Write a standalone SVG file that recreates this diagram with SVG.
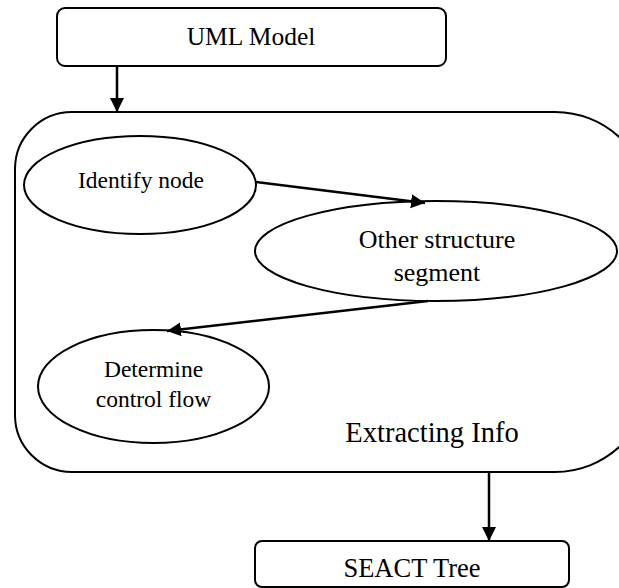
<svg xmlns="http://www.w3.org/2000/svg" width="619" height="588" viewBox="0 0 619 588">
<style>
.box{fill:#fff;stroke:#000;stroke-width:2}
.ell{fill:#fff;stroke:#000;stroke-width:2}
text{font-family:'Liberation Serif','Times New Roman',Tinos,'DejaVu Serif',serif;fill:#000;text-anchor:middle}
.edge{stroke:#000;stroke-width:2.5;fill:none;marker-end:url(#ah)}
</style>
<defs>
<marker id="ah" markerUnits="userSpaceOnUse" markerWidth="16" markerHeight="16" refX="14" refY="7" orient="auto">
<path d="M0,0 L14,7 L0,14 Z" fill="#000"/>
</marker>
</defs>
<rect x="0" y="0" width="619" height="588" fill="#fff"/>
<g id="extracting-info">
<path class="box" d="M72,112 H555 A95,95 0 0 1 650,207 V377 A95,95 0 0 1 555,472 H72 A57,57 0 0 1 15,415 V169 A57,57 0 0 1 72,112 Z"/>
<text x="432" y="442" font-size="28.5" font-family="Liberation Serif, serif">Extracting Info</text>
</g>
<g id="uml-model">
<rect class="box" x="57" y="8" width="389" height="58" rx="8"/>
<text x="251" y="45" font-size="25.5" font-family="Liberation Serif, serif">UML Model</text>
</g>
<g id="identify-node">
<ellipse class="ell" cx="140" cy="185" rx="116" ry="49"/>
<text x="141" y="188" font-size="23.5" font-family="Liberation Serif, serif">Identify node</text>
</g>
<g id="other-structure">
<ellipse class="ell" cx="436" cy="251" rx="181" ry="50"/>
<text x="437" y="248" font-size="26" font-family="Liberation Serif, serif">Other structure</text>
<text x="437" y="281" font-size="26" font-family="Liberation Serif, serif">segment</text>
</g>
<g id="determine-control-flow">
<ellipse class="ell" cx="153.5" cy="386.5" rx="115.5" ry="56.5"/>
<text x="153.5" y="377" font-size="23.5" font-family="Liberation Serif, serif">Determine</text>
<text x="153.5" y="407" font-size="23.5" font-family="Liberation Serif, serif">control flow</text>
</g>
<g id="seact-tree">
<rect class="box" x="255" y="541" width="314" height="46" rx="7"/>
<text x="412" y="577" font-size="26.5" font-family="Liberation Serif, serif">SEACT Tree</text>
</g>
<g id="connectors">
<line class="edge" x1="117" y1="66" x2="117" y2="112"/>
<line class="edge" x1="256" y1="182" x2="425" y2="203"/>
<line class="edge" x1="428" y1="301" x2="167" y2="331"/>
<line class="edge" x1="489" y1="472" x2="489" y2="541"/>
</g>
</svg>
